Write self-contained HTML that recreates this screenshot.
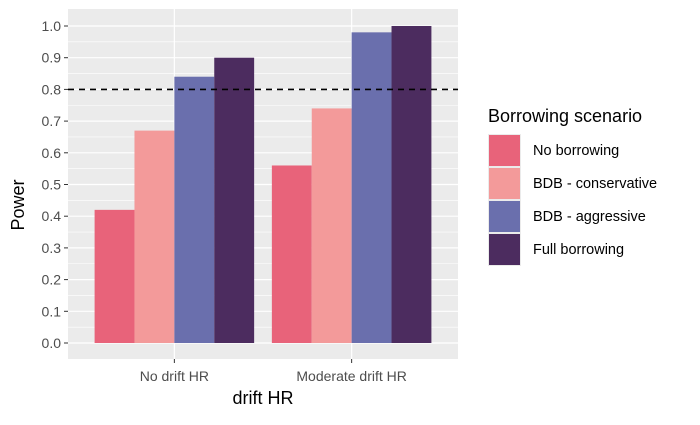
<!DOCTYPE html>
<html><head><meta charset="utf-8"><style>
body{margin:0;background:#fff;font-family:"Liberation Sans",Arial,sans-serif}
</style></head><body>
<svg id="chart" width="700" height="420" xmlns="http://www.w3.org/2000/svg">
<rect x="68" y="9" width="390" height="350" fill="#ebebeb"/>
<g id="grid"></g><g id="bars"></g><g id="axes"></g>
<text x="263" y="404" font-size="18" text-anchor="middle" fill="#000">drift HR</text>
<text transform="translate(24,205) rotate(-90)" font-size="18" text-anchor="middle" fill="#000">Power</text>
<g id="legend">
<text x="488" y="122" font-size="18" fill="#000">Borrowing scenario</text>
</g>
</svg>
<script>
const categories=["No drift HR","Moderate drift HR"];
const series=["No borrowing","BDB - conservative","BDB - aggressive","Full borrowing"];
const colors=["#e8637a","#f39a9a","#6a6fad","#4c2c5f"];
const noBorrowing=[0.42,0.56];
const bdbConservative=[0.67,0.74];
const bdbAggressive=[0.84,0.98];
const fullBorrowing=[0.90,1.00];
const yTicks=[0,0.1,0.2,0.3,0.4,0.5,0.6,0.7,0.8,0.9,1.0];
const threshold=0.8;
const values=[noBorrowing,bdbConservative,bdbAggressive,fullBorrowing];
const NS="http://www.w3.org/2000/svg";
const L=68,R=458,T=9,B=359;
const y=v=>343-v*317;
const unit=(R-L)/(categories.length-1+1.2);
const x=i=>L+unit*(0.6+i);
function mk(tag,attrs,parent){const e=document.createElementNS(NS,tag);for(const k in attrs)e.setAttribute(k,attrs[k]);parent.appendChild(e);return e;}
const grid=document.getElementById('grid'),bars=document.getElementById('bars'),axes=document.getElementById('axes'),legend=document.getElementById('legend');
yTicks.forEach((t,i)=>{
 if(i<yTicks.length-1){const m=mk('line',{x1:L,x2:R,y1:y(t+0.05),y2:y(t+0.05),stroke:'#fff','stroke-width':0.6},grid);
 
 }
 const g=mk('line',{x1:L,x2:R,y1:y(t),y2:y(t),stroke:'#fff','stroke-width':1.2},grid);
 
 
 const tk=mk('line',{x1:L-4,x2:L,y1:y(t),y2:y(t),stroke:'#333','stroke-width':1},axes);
 
 
 const tl=mk('text',{x:L-7,y:y(t)+5,'font-size':14,'text-anchor':'end',fill:'#4d4d4d'},axes);
 tl.textContent=t.toFixed(1);
 
 
});
const bw=unit*0.9/series.length;
categories.forEach((c,i)=>{
 const g=mk('line',{x1:x(i),x2:x(i),y1:T,y2:B,stroke:'#fff','stroke-width':1.2},grid);
 
 
 series.forEach((s,j)=>{
  const v=values[j][i];
  const r=mk('rect',{x:x(i)-unit*0.45+j*bw,y:y(v),width:bw,height:y(0)-y(v),fill:colors[j]},bars);
  
  
 });
 const tk=mk('line',{x1:x(i),x2:x(i),y1:B,y2:B+4,stroke:'#333','stroke-width':1},axes);
 
 
 const tl=mk('text',{x:x(i),y:B+22,'font-size':14,'text-anchor':'middle',fill:'#4d4d4d'},axes);
 tl.textContent=c;
 
 
});
const th=mk('line',{x1:L,x2:R,y1:y(threshold),y2:y(threshold),stroke:'#000','stroke-width':1.6,'stroke-dasharray':'6,5'},bars);


series.forEach((s,j)=>{
 const yy=134+j*33;
 const bg=mk('rect',{x:488,y:yy,width:33,height:33,fill:'#ebebeb'},legend);
 
 
 const k=mk('rect',{x:489,y:yy+1,width:31,height:31,fill:colors[j]},legend);
 
 
 const t=mk('text',{x:533,y:yy+21,'font-size':14.5,fill:'#000'},legend);
 t.textContent=s;
 
 
});
</script>
</body></html>
